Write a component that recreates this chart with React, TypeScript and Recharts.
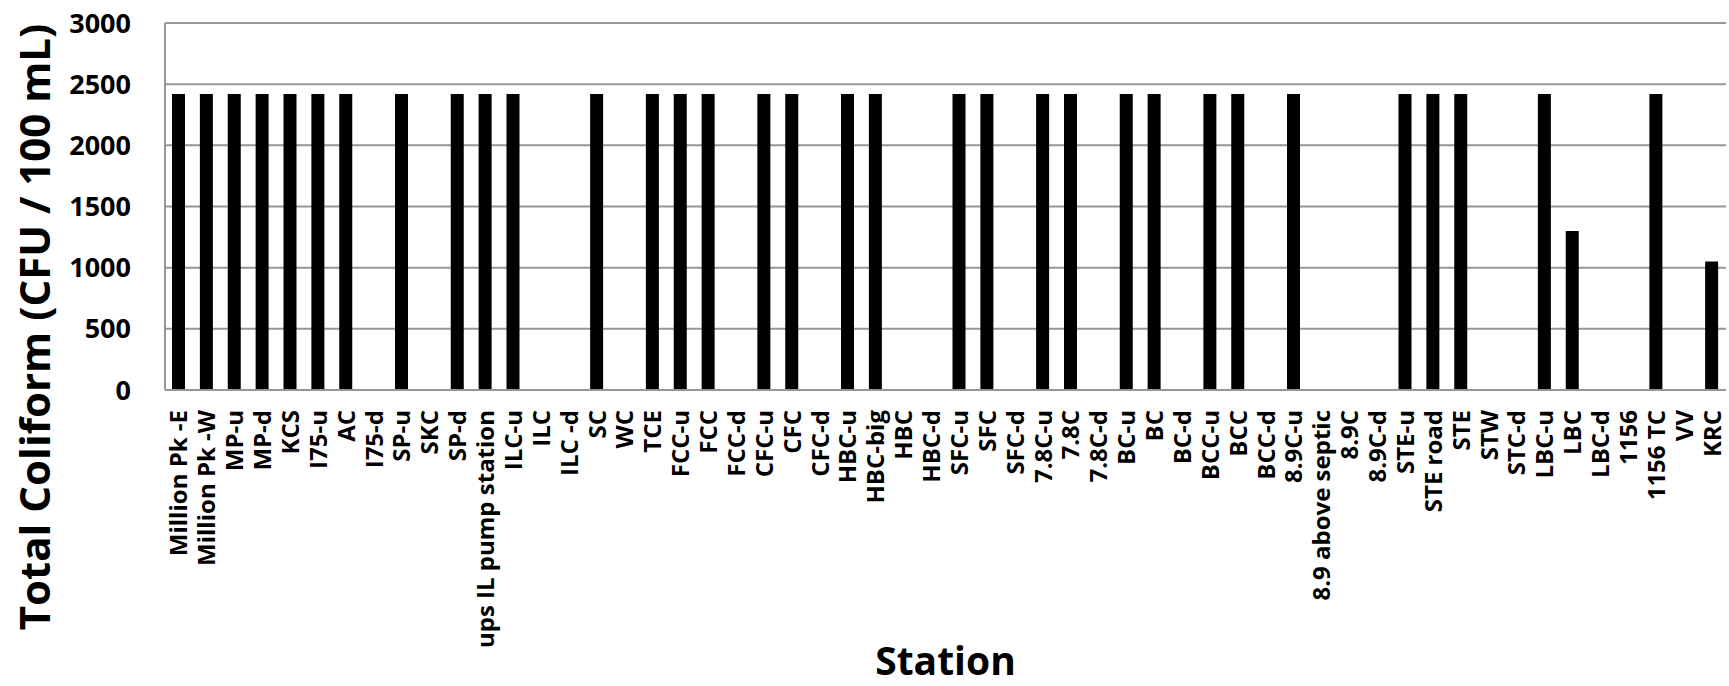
import { Bar, BarChart, CartesianGrid, XAxis, YAxis } from "recharts";

const stations = [
  "Million Pk -E", "Million Pk -W", "MP-u", "MP-d", "KCS", "I75-u", "AC", "I75-d",
  "SP-u", "SKC", "SP-d", "ups IL pump station", "ILC-u", "ILC", "ILC -d", "SC",
  "WC", "TCE", "FCC-u", "FCC", "FCC-d", "CFC-u", "CFC", "CFC-d",
  "HBC-u", "HBC-big", "HBC", "HBC-d", "SFC-u", "SFC", "SFC-d", "7.8C-u",
  "7.8C", "7.8C-d", "BC-u", "BC", "BC-d", "BCC-u", "BCC", "BCC-d",
  "8.9C-u", "8.9 above septic", "8.9C", "8.9C-d", "STE-u", "STE road", "STE", "STW",
  "STC-d", "LBC-u", "LBC", "LBC-d", "1156", "1156 TC", "VV", "KRC"
];

// null = no bar drawn for that station
const coliform = [
  2420, 2420, 2420, 2420, 2420, 2420, 2420, null,
  2420, null, 2420, 2420, 2420, null, null, 2420,
  null, 2420, 2420, 2420, null, 2420, 2420, null,
  2420, 2420, null, null, 2420, 2420, null, 2420,
  2420, null, 2420, 2420, null, 2420, 2420, null,
  2420, null, null, null, 2420, 2420, 2420, null,
  null, 2420, 1300, null, null, 2420, null, 1050
];

const majorTicks = [0, 500, 1000, 1500, 2000, 2500, 3000];
const minorTicks = [
  0, 100, 200, 300, 400, 500, 600, 700, 800, 900, 1000, 1100, 1200, 1300, 1400, 1500,
  1600, 1700, 1800, 1900, 2000, 2100, 2200, 2300, 2400, 2500, 2600, 2700, 2800, 2900, 3000
];

const data = stations.map((name, i) => ({ name, value: coliform[i] }));

const FONT = "'Open Sans', sans-serif";
const GRID = "#969696";

function StationTick({ x, y, payload }: any) {
  return (
    <text
      x={x}
      y={y}
      dy={8.5}
      transform={`rotate(-90, ${x}, ${y})`}
      textAnchor="end"
      fontFamily={FONT}
      fontWeight={700}
      fontSize={24}
      fill="#000"
    >
      {payload.value}
    </text>
  );
}

function YTitle() {
  return (
    <text
      x={50}
      y={327}
      transform="rotate(-90, 50, 327)"
      textAnchor="middle"
      fontFamily={FONT}
      fontWeight={700}
      fontSize={42}
      fill="#000"
    >
      Total Coliform (CFU / 100 mL)
    </text>
  );
}

export default function App() {
  return (
    <div style={{ position: "absolute", left: 0, top: 0, width: 1729, height: 686, background: "#fff" }}>
      <BarChart
        width={1729}
        height={686}
        data={data}
        margin={{ top: 23, right: 3, left: 0, bottom: 0 }}
        barCategoryGap={0}
      >
        <CartesianGrid vertical={false} stroke={GRID} strokeWidth={2} />
        <XAxis
          dataKey="name"
          interval={0}
          height={296}
          axisLine={{ stroke: GRID, strokeWidth: 2 }}
          tickLine={false}
          tickSize={6}
          tickMargin={14}
          tick={<StationTick />}
          label={{
            value: "Station",
            position: "insideBottom",
            offset: 11,
            fontFamily: FONT,
            fontWeight: 700,
            fontSize: 39,
            fill: "#000"
          }}
        />
        <YAxis
          width={165}
          domain={[0, 3000]}
          ticks={majorTicks}
          interval={0}
          axisLine={{ stroke: GRID, strokeWidth: 2 }}
          tickLine={false}
          tickSize={6}
          tickMargin={28}
          tick={{ fontFamily: FONT, fontWeight: 700, fontSize: 27, fill: "#000" }}
          label={<YTitle />}
        />
        <YAxis
          yAxisId="minor"
          mirror
          domain={[0, 3000]}
          ticks={minorTicks}
          interval={0}
          axisLine={false}
          tick={false}
          tickSize={7}
          tickLine={{ stroke: GRID, strokeWidth: 1.5 }}
        />
        <Bar dataKey="value" fill="#000" barSize={13} isAnimationActive={false} />
      </BarChart>
    </div>
  );
}
